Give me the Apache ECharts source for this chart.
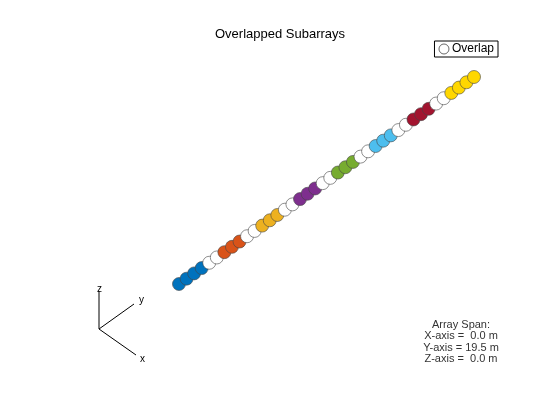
<!DOCTYPE html>
<html><head><meta charset="utf-8">
<script src="https://cdn.jsdelivr.net/npm/echarts@6/dist/echarts.min.js"></script>
<style>html,body{margin:0;padding:0;background:#fff}#c{width:560px;height:420px}</style>
</head><body><div id="c"></div>
<script>
// element groups along the array (counts), colours
const groupCounts = [4,2,3,2,3,2,3,2,3,2,3,2,3,2,4];
const groupColors = ['#0072BD','#FFFFFF','#D95319','#FFFFFF','#EDB120','#FFFFFF','#7E2F8E','#FFFFFF','#77AC30','#FFFFFF','#4DBEEE','#FFFFFF','#A2142F','#FFFFFF','#FFD700'];
const spacing = 0.5;
const spanText = ['Array Span:','X-axis =  0.0 m','Y-axis = 19.5 m','Z-axis =  0.0 m'];

const total = groupCounts.reduce((a,b)=>a+b,0);
const half = (total-1)*spacing/2;
const elems=[];
let k=0;
groupCounts.forEach((n,g)=>{
  for(let i=0;i<n;i++){
    const p=-half+k*spacing;
    elems.push({value:[p,p],itemStyle:{color:groupColors[g]}});
    k++;
  }
});
const chart=echarts.init(document.getElementById('c'));
chart.setOption({
  animation:false,
  title:{text:'Overlapped Subarrays',left:'center',top:23,textStyle:{fontSize:13,fontWeight:'normal',color:'#000',fontFamily:'Liberation Sans'}},
  legend:{data:[{name:'Overlap',icon:'circle',itemStyle:{color:'#fff',borderColor:'#444',borderWidth:1}}],right:62,top:41,itemWidth:10,itemHeight:10,itemGap:4,
    borderColor:'#000',borderWidth:1,padding:[2,4],borderRadius:0,textStyle:{fontSize:12,color:'#000',padding:[0,0,0,-2],fontFamily:'Liberation Sans'}},
  grid:{left:179,width:295,top:77,height:207},
  xAxis:{type:'value',min:-half,max:half,show:false},
  yAxis:{type:'value',min:-half,max:half,show:false},
  series:[
    {name:'Elements',type:'scatter',data:elems,symbolSize:13,itemStyle:{opacity:1,borderColor:'#444',borderWidth:0.6},z:3},
    {name:'Overlap',type:'scatter',data:[],itemStyle:{color:'#fff'}}
  ],
  graphic:[
    {type:'line',shape:{x1:99,y1:329,x2:99,y2:291},style:{stroke:'#000',lineWidth:1}},
    {type:'line',shape:{x1:99,y1:329,x2:134,y2:304},style:{stroke:'#000',lineWidth:1}},
    {type:'line',shape:{x1:99,y1:329,x2:136,y2:355},style:{stroke:'#000',lineWidth:1}},
    {type:'text',x:97,y:284,style:{text:'z',fontSize:10,fill:'#000'}},
    {type:'text',x:139,y:295,style:{text:'y',fontSize:10,fill:'#000'}},
    {type:'text',x:140,y:354,style:{text:'x',fontSize:10,fill:'#000'}},
    {type:'text',x:461,y:319,style:{text:spanText.join('\n'),fontSize:11,lineHeight:11.5,align:'center',fill:'#333',fontFamily:'Liberation Sans'}}
  ]
});
</script></body></html>
